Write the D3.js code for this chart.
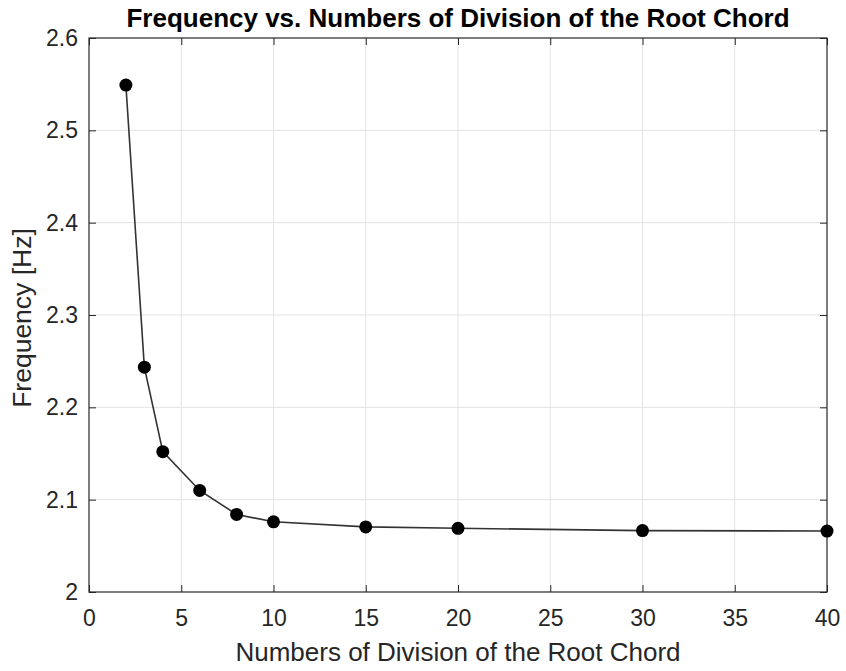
<!DOCTYPE html>
<html>
<head>
<meta charset="utf-8">
<script src="https://cdn.jsdelivr.net/npm/d3@7"></script>
<style>
  html, body { margin: 0; padding: 0; background: #fff; }
  svg { display: block; }
  text { font-family: "Liberation Sans", Arial, Helvetica, sans-serif; }
</style>
</head>
<body>
<svg id="chart" width="846" height="671"></svg>
<script>
// Number of chordwise divisions of the root chord
const divisions = [2, 3, 4, 6, 8, 10, 15, 20, 30, 40];
// First natural frequency [Hz] for each mesh
const frequency = [2.549, 2.2435, 2.152, 2.110, 2.084, 2.076, 2.0705, 2.069, 2.0665, 2.066];

const xTicks = [0, 5, 10, 15, 20, 25, 30, 35, 40];
const yTicks = [2, 2.1, 2.2, 2.3, 2.4, 2.5, 2.6];

const titleText = "Frequency vs. Numbers of Division of the Root Chord";
const xLabelText = "Numbers of Division of the Root Chord";
const yLabelText = "Frequency [Hz]";

const svg = d3.select("#chart");
const plot = { left: 89, right: 827, top: 38, bottom: 592 };

const x = d3.scaleLinear().domain([0, 40]).range([plot.left, plot.right]);
const y = d3.scaleLinear().domain([2, 2.6]).range([plot.bottom, plot.top]);

const axisColor = "#262626";
const tickLen = 7;

// grid
const grid = svg.append("g");
grid.selectAll("line.gx").data(xTicks.slice(1, -1)).join("line")
  .attr("x1", d => x(d)).attr("x2", d => x(d))
  .attr("y1", plot.top).attr("y2", plot.bottom)
  .attr("stroke", "#e3e3e3").attr("stroke-width", 1);
grid.selectAll("line.gy").data(yTicks.slice(1, -1)).join("line")
  .attr("y1", d => y(d)).attr("y2", d => y(d))
  .attr("x1", plot.left).attr("x2", plot.right)
  .attr("stroke", "#e3e3e3").attr("stroke-width", 1);

// bottom / left axes with inward ticks
const xAxis = d3.axisBottom(x).tickValues(xTicks).tickFormat(d3.format("d"))
  .tickSizeInner(-tickLen).tickSizeOuter(0).tickPadding(18);
const yAxis = d3.axisLeft(y).tickValues(yTicks).tickFormat(d => d === 2 ? "2" : d3.format(".1f")(d))
  .tickSizeInner(-tickLen).tickSizeOuter(0).tickPadding(11);

const gx = svg.append("g").attr("transform", `translate(0,${plot.bottom})`).call(xAxis);
const gy = svg.append("g").attr("transform", `translate(${plot.left},0)`).call(yAxis);
[gx, gy].forEach(g => {
  g.select(".domain").remove();
  g.selectAll(".tick line").attr("stroke", axisColor);
  g.selectAll(".tick text").attr("fill", axisColor)
    .style("font-size", "23px").style("font-family", "'Liberation Sans', Arial, sans-serif");
});
gx.selectAll(".tick text").attr("dy", "0.71em");

// top / right mirrored ticks
const gTop = svg.append("g").attr("transform", `translate(0,${plot.top})`)
  .call(d3.axisTop(x).tickValues(xTicks).tickSizeInner(-tickLen).tickSizeOuter(0).tickFormat(""));
const gRight = svg.append("g").attr("transform", `translate(${plot.right},0)`)
  .call(d3.axisRight(y).tickValues(yTicks).tickSizeInner(-tickLen).tickSizeOuter(0).tickFormat(""));
[gTop, gRight].forEach(g => {
  g.select(".domain").remove();
  g.selectAll(".tick line").attr("stroke", axisColor);
});

// box
svg.append("rect")
  .attr("x", plot.left).attr("y", plot.top)
  .attr("width", plot.right - plot.left).attr("height", plot.bottom - plot.top)
  .attr("fill", "none").attr("stroke", axisColor).attr("stroke-width", 1.2);

// data line and markers
const pts = divisions.map((d, i) => [d, frequency[i]]);
svg.append("path")
  .datum(pts)
  .attr("d", d3.line().x(d => x(d[0])).y(d => y(d[1])))
  .attr("fill", "none").attr("stroke", "#333").attr("stroke-width", 1.6);
svg.selectAll("circle.pt").data(pts).join("circle")
  .attr("cx", d => x(d[0])).attr("cy", d => y(d[1]))
  .attr("r", 6.5).attr("fill", "#000");

// title and labels
svg.append("text")
  .attr("x", (plot.left + plot.right) / 2).attr("y", 27)
  .attr("text-anchor", "middle")
  .style("font-size", "26px").style("font-weight", "bold").attr("fill", "#000")
  .text(titleText);

svg.append("text")
  .attr("x", (plot.left + plot.right) / 2).attr("y", 661)
  .attr("text-anchor", "middle")
  .style("font-size", "26px").attr("fill", axisColor)
  .text(xLabelText);

svg.append("text")
  .attr("transform", `translate(31,${(plot.top + plot.bottom) / 2 + 3}) rotate(-90)`)
  .attr("text-anchor", "middle")
  .style("font-size", "26.5px").attr("fill", axisColor)
  .text(yLabelText);
</script>
</body>
</html>
